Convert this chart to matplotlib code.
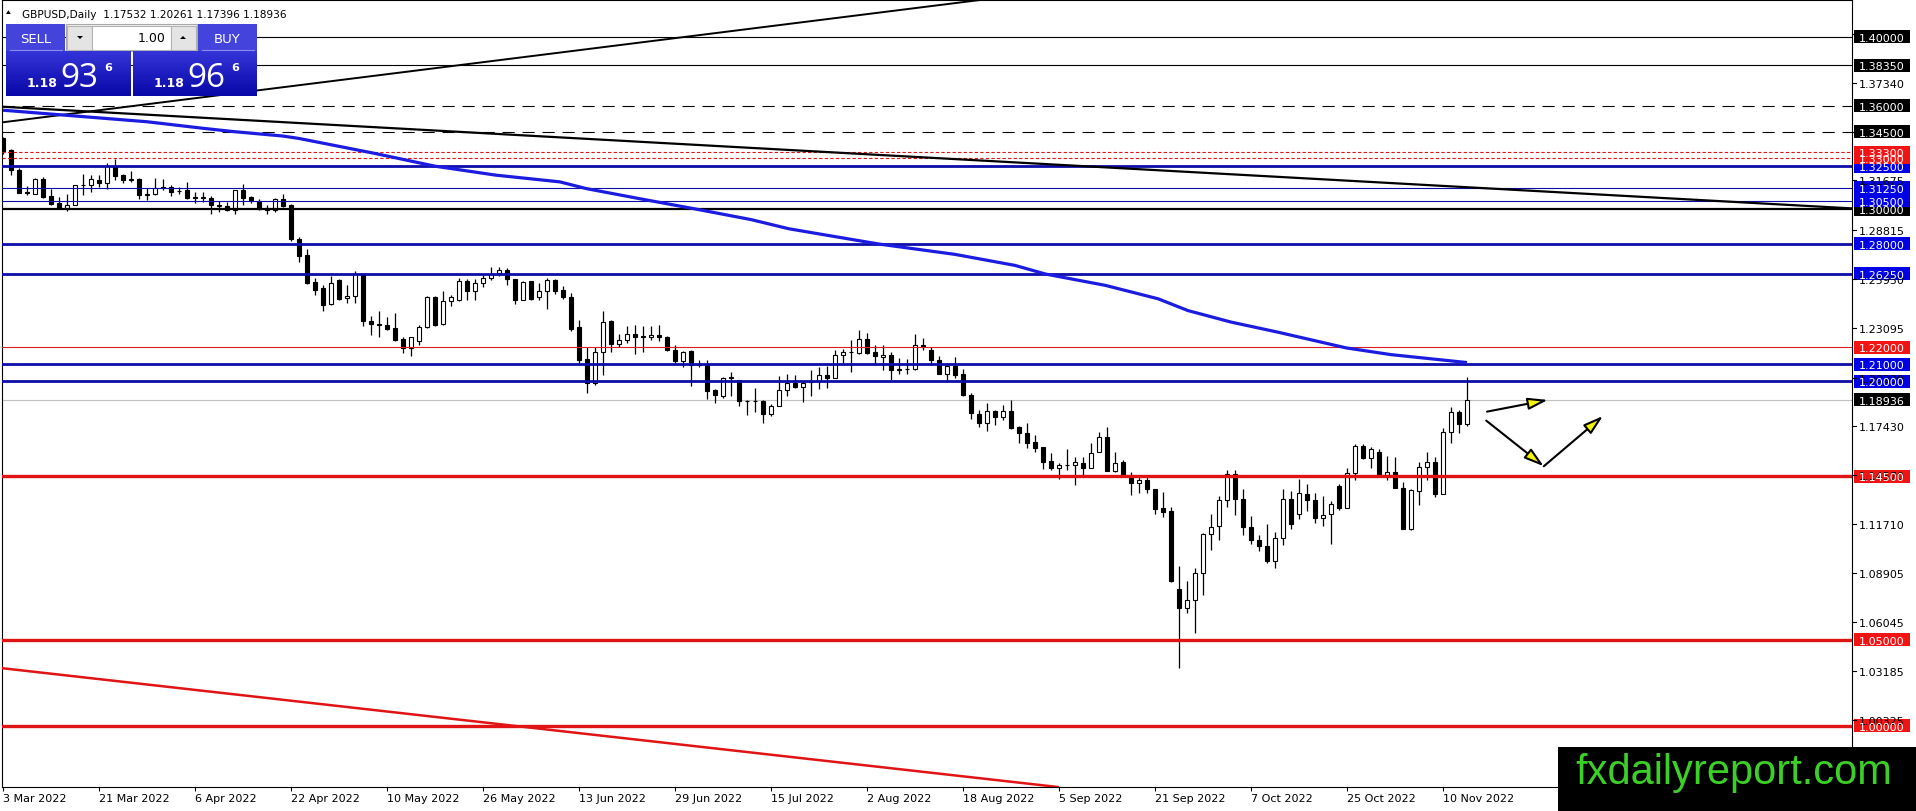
import numpy as np
import pandas as pd
import matplotlib
matplotlib.use("Agg")
import matplotlib.pyplot as plt
from matplotlib.patches import Rectangle, Polygon, FancyArrowPatch
from matplotlib.colors import LinearSegmentedColormap

plt.rcParams['font.family'] = ['DejaVu Sans']

# ---------------- data ----------------
symbol_info = "GBPUSD,Daily  1.17532 1.20261 1.17396 1.18936"
start_date = "2022-03-03"

opens = [1.3411,1.3343,1.3230,1.3101,1.3091,1.3175,1.3076,1.3037,1.3004,1.3027,
         1.3140,1.3138,1.3169,1.3155,1.3250,1.3196,1.3172,1.3176,1.3085,1.3086,
         1.3128,1.3130,1.3105,1.3111,1.3068,1.3066,1.3068,1.3020,1.3020,1.2995,
         1.3111,1.3072,1.3049,1.3008,1.2995,1.3062,1.3022,1.2830,1.2736,1.2576,
         1.2543,1.2450,1.2587,1.2485,1.2494,1.2626,1.2353,1.2333,1.2329,1.2310,
         1.2248,1.2194,1.2233,1.2314,1.2490,1.2333,1.2469,1.2471,1.2585,1.2523,
         1.2572,1.2601,1.2630,1.2649,1.2597,1.2475,1.2581,1.2488,1.2523,1.2591,
         1.2533,1.2490,1.2316,1.2130,1.1990,1.2171,1.2353,1.2217,1.2243,1.2278,
         1.2260,1.2258,1.2272,1.2258,1.2184,1.2117,1.2175,1.2100,1.2097,1.1951,
         1.1913,1.2019,1.2010,1.1886,1.1889,1.1889,1.1812,1.1860,1.1951,1.1994,
         1.1967,1.1998,1.2004,1.2039,1.2019,1.2151,1.2169,1.2165,1.2249,1.2169,
         1.2142,1.2155,1.2068,1.2072,1.2075,1.2210,1.2181,1.2127,1.2046,1.2088,
         1.2042,1.1921,1.1814,1.1757,1.1828,1.1795,1.1828,1.1737,1.1699,1.1650,
         1.1618,1.1538,1.1500,1.1515,1.1515,1.1525,1.1496,1.1588,1.1675,1.1482,
         1.1531,1.1457,1.1409,1.1428,1.1376,1.1264,1.1249,1.0797,1.0685,1.0730,
         1.0888,1.1114,1.1162,1.1314,1.1465,1.1320,1.1155,1.1081,1.1044,1.0960,
         1.1093,1.1320,1.1232,1.1349,1.1314,1.1209,1.1229,1.1392,1.1267,1.1466,
         1.1625,1.1553,1.1588,1.1456,1.1475,1.1384,1.1145,1.1365,1.1504,1.1534,
         1.1349,1.1708,1.1825,1.17532]
highs = [1.3420,1.3350,1.3242,1.3134,1.3184,1.3188,1.3120,1.3072,1.3086,1.3142,
         1.3207,1.3198,1.3198,1.3270,1.3294,1.3202,1.3222,1.3180,1.3126,1.3179,
         1.3175,1.3140,1.3130,1.3159,1.3101,1.3101,1.3076,1.3049,1.3043,1.3113,
         1.3146,1.3076,1.3057,1.3022,1.3068,1.3088,1.3029,1.2839,1.2769,1.2601,
         1.2562,1.2614,1.2597,1.2562,1.2639,1.2630,1.2382,1.2407,1.2374,1.2397,
         1.2256,1.2258,1.2329,1.2494,1.2494,1.2523,1.2504,1.2601,1.2595,1.2595,
         1.2616,1.2665,1.2665,1.2659,1.2597,1.2581,1.2581,1.2572,1.2601,1.2595,
         1.2552,1.2513,1.2358,1.2203,1.2200,1.2407,1.2359,1.2278,1.2320,1.2330,
         1.2320,1.2320,1.2330,1.2262,1.2214,1.2175,1.2181,1.2126,1.2126,1.1957,
         1.2029,1.2058,1.2010,1.1893,1.1965,1.1893,1.1870,1.2033,1.2043,1.2039,
         1.2000,1.2064,1.2087,1.2091,1.2184,1.2188,1.2243,1.2297,1.2282,1.2214,
         1.2214,1.2169,1.2136,1.2130,1.2277,1.2250,1.2200,1.2146,1.2108,1.2143,
         1.2075,1.1934,1.1834,1.1876,1.1834,1.1863,1.1895,1.1741,1.1760,1.1689,
         1.1621,1.1583,1.1525,1.1608,1.1563,1.1560,1.1641,1.1708,1.1733,1.1588,
         1.1544,1.1477,1.1444,1.1444,1.1376,1.1361,1.1274,1.0930,1.0840,1.0917,
         1.1120,1.1232,1.1333,1.1485,1.1489,1.1378,1.1217,1.1106,1.1174,1.1126,
         1.1378,1.1364,1.1436,1.1407,1.1353,1.1333,1.1306,1.1403,1.1495,1.1637,
         1.1637,1.1617,1.1611,1.1567,1.1559,1.1417,1.1378,1.1534,1.1592,1.1563,
         1.1728,1.1854,1.1835,1.20261]
lows = [1.3320,1.3198,1.3095,1.3082,1.3087,1.3068,1.3023,1.3004,1.2991,1.3023,
        1.3082,1.3101,1.3130,1.3115,1.3172,1.3150,1.3157,1.3062,1.3053,1.3082,
        1.3110,1.3076,1.3090,1.3058,1.3037,1.3043,1.2975,1.2985,1.2989,1.2971,
        1.3027,1.3039,1.2998,1.2975,1.2985,1.3014,1.2816,1.2695,1.2567,1.2500,
        1.2407,1.2446,1.2475,1.2455,1.2455,1.2320,1.2271,1.2256,1.2300,1.2236,
        1.2165,1.2149,1.2213,1.2310,1.2325,1.2329,1.2436,1.2469,1.2471,1.2475,
        1.2548,1.2587,1.2614,1.2558,1.2451,1.2471,1.2475,1.2471,1.2422,1.2510,
        1.2481,1.2291,1.2107,1.1932,1.1981,1.2039,1.2169,1.2200,1.2223,1.2159,
        1.2169,1.2239,1.2233,1.2175,1.2107,1.2087,1.1971,1.2087,1.1897,1.1874,
        1.1903,1.1913,1.1858,1.1806,1.1825,1.1757,1.1800,1.1860,1.1916,1.1961,
        1.1883,1.1916,1.1955,1.1961,1.2019,1.2107,1.2058,1.2161,1.2159,1.2097,
        1.2064,1.2006,1.2045,1.2045,1.2065,1.2185,1.2094,1.2042,1.1998,1.2023,
        1.1917,1.1785,1.1737,1.1714,1.1747,1.1776,1.1727,1.1644,1.1616,1.1592,
        1.1492,1.1486,1.1434,1.1486,1.1399,1.1457,1.1496,1.1588,1.1482,1.1477,
        1.1451,1.1342,1.1351,1.1351,1.1231,1.1212,1.0834,1.0338,1.0656,1.0541,
        1.0763,1.1023,1.1081,1.1271,1.1223,1.1106,1.1054,1.1015,1.0945,1.0918,
        1.1048,1.1145,1.1203,1.1248,1.1178,1.1164,1.1058,1.1256,1.1267,1.1427,
        1.1549,1.1500,1.1456,1.1431,1.1384,1.1145,1.1139,1.1281,1.1427,1.1330,
        1.1349,1.1644,1.1703,1.17396]
closes = [1.3337,1.3227,1.3095,1.3095,1.3175,1.3072,1.3029,1.3008,1.3027,1.3140,
          1.3142,1.3175,1.3155,1.3250,1.3194,1.3171,1.3175,1.3083,1.3089,1.3126,
          1.3122,1.3101,1.3108,1.3066,1.3066,1.3070,1.3027,1.3022,1.2995,1.3111,
          1.3068,1.3053,1.3004,1.2998,1.3062,1.3020,1.2830,1.2729,1.2572,1.2533,
          1.2446,1.2572,1.2480,1.2498,1.2626,1.2349,1.2333,1.2328,1.2306,1.2242,
          1.2194,1.2258,1.2316,1.2490,1.2329,1.2469,1.2490,1.2585,1.2523,1.2572,
          1.2601,1.2626,1.2649,1.2597,1.2475,1.2577,1.2479,1.2527,1.2591,1.2527,
          1.2488,1.2306,1.2126,1.1990,1.2171,1.2345,1.2217,1.2239,1.2278,1.2258,
          1.2264,1.2272,1.2258,1.2181,1.2117,1.2171,1.2097,1.2094,1.1947,1.1922,
          1.2019,1.2029,1.1884,1.1888,1.1886,1.1812,1.1860,1.1951,1.1990,1.1967,
          1.1994,1.2000,1.2039,1.2019,1.2155,1.2171,1.2171,1.2249,1.2165,1.2146,
          1.2155,1.2068,1.2070,1.2075,1.2210,1.2200,1.2127,1.2046,1.2088,1.2036,
          1.1921,1.1820,1.1757,1.1828,1.1795,1.1828,1.1731,1.1699,1.1644,1.1616,
          1.1535,1.1500,1.1515,1.1517,1.1531,1.1496,1.1583,1.1675,1.1482,1.1529,
          1.1457,1.1413,1.1428,1.1374,1.1260,1.1245,1.0840,1.0685,1.0734,1.0888,
          1.1114,1.1158,1.1314,1.1465,1.1320,1.1155,1.1081,1.1044,1.0957,1.1093,
          1.1320,1.1174,1.1353,1.1314,1.1209,1.1227,1.1291,1.1265,1.1466,1.1625,
          1.1553,1.1611,1.1456,1.1475,1.1384,1.1145,1.1372,1.1504,1.1534,1.1345,
          1.1708,1.1825,1.1753,1.18936]

# moving average (bar index, price)
ma_index = [0, 18, 25, 29, 35, 37, 46.5, 54, 61.6, 69.6, 72.9, 79.5, 86.5, 93.5,
            98.2, 103, 109.5, 119, 126.5, 130.3, 137.8, 144.4, 148.1, 153.5,
            159.4, 167.9, 173.5, 183]
ma_values = [1.3575, 1.3508, 1.3470, 1.3450, 1.3425, 1.3411, 1.3324, 1.3250,
             1.3198, 1.3159, 1.3120, 1.3062, 1.3002, 1.2940, 1.2887, 1.2849,
             1.2798, 1.2738, 1.2674, 1.2624, 1.2558, 1.2480, 1.2412, 1.2345,
             1.2286, 1.2195, 1.2156, 1.2110]

# trend lines: two anchor points (bar index, price)
trend_down = [(0, 1.3595), (228.75, 1.3011)]
trend_up = [(0, 1.3505), (120.6, 1.4206)]
trend_red = [(-0.375, 1.0337), (131.25, 0.9649)]

levels_black = [1.40000, 1.38350]
levels_dashed = [1.36000, 1.34500]
levels_dotted_red = [1.33300, 1.33000]
levels_blue_thick = [1.32500, 1.28000, 1.26250, 1.21000, 1.20000]
levels_blue_thin = [1.31250, 1.30500]
levels_black_thick = [1.30000]
levels_red_thin = [1.22000]
levels_red_thick = [1.14500, 1.05000, 1.00000]
bid_price = 1.18936

ytick_values = [1.40200, 1.37340, 1.34480, 1.31675, 1.28815, 1.25950, 1.23095,
                1.20230, 1.17430, 1.14570, 1.11710, 1.08905, 1.06045, 1.03185,
                1.00325]

arrow_segments = [((185.5, 1.1825), (193.1, 1.1893)),
                  ((185.4, 1.1773), (192.6, 1.1508)),
                  ((192.6, 1.1508), (200.0, 1.1800))]

sell_quote = ("1.18", "93", "6")
buy_quote = ("1.18", "96", "6")
lot_size = "1.00"
watermark = "fxdailyreport.com"

# ---------------- figure ----------------
W, H = 1916, 812
fig = plt.figure(figsize=(W / 100, H / 100), dpi=100)
fig.patch.set_facecolor('white')

PX_L, PX_R, PX_T, PX_B = 2, 1852, 1, 788
ax = fig.add_axes([PX_L / W, 1 - PX_B / H, (PX_R - PX_L) / W, (PX_B - PX_T) / H])
ax.set_xlim(-0.125, 231.125)
ax.set_ylim(0.964586, 1.421480)
ax.set_facecolor('white')
for s in ax.spines.values():
    s.set_color('black')
    s.set_linewidth(0.8)

n = len(closes)
idx = np.arange(n)
o = np.array(opens); h = np.array(highs); l = np.array(lows); c = np.array(closes)

BLUE_LINE = '#0d0da8'
RED_LINE = '#e01414'

# horizontal levels
for p in levels_black:
    ax.axhline(p, color='black', lw=0.8, zorder=4)
for p in levels_dashed:
    ax.axhline(p, color='black', lw=0.8, ls=(0, (11, 7)), zorder=4)
for p in levels_dotted_red:
    ax.axhline(p, color=RED_LINE, lw=0.8, ls=(0, (3, 2)), zorder=4)
for p in levels_blue_thick:
    ax.axhline(p, color=BLUE_LINE, lw=2.0, zorder=4)
for p in levels_blue_thin:
    ax.axhline(p, color=BLUE_LINE, lw=0.8, zorder=4)
for p in levels_black_thick:
    ax.axhline(p, color='black', lw=1.6, zorder=4)
for p in levels_red_thin:
    ax.axhline(p, color='#d82020', lw=0.8, zorder=4)
for p in levels_red_thick:
    ax.axhline(p, color=RED_LINE, lw=2.4, zorder=4)
ax.axhline(bid_price, color='#c0c0c0', lw=0.8, zorder=1)

# trend lines
ax.axline(trend_down[0], trend_down[1], color='black', lw=1.6, zorder=4)
ax.axline(trend_up[0], trend_up[1], color='black', lw=1.4, zorder=4)
ax.axline(trend_red[0], trend_red[1], color=RED_LINE, lw=1.8, zorder=4)

# candles
ax.vlines(idx, l, h, color='black', lw=0.9, zorder=2)
up = c >= o
bottom = np.minimum(o, c)
height = np.maximum(np.abs(c - o), 0.0003)
ax.bar(idx[up], height[up], bottom=bottom[up], width=0.62, facecolor='white',
       edgecolor='black', linewidth=0.8, zorder=3)
ax.bar(idx[~up], height[~up], bottom=bottom[~up], width=0.62, facecolor='black',
       edgecolor='black', linewidth=0.8, zorder=3)

# moving average
ax.plot(ma_index, ma_values, color='#1c1ce0', lw=2.3, zorder=5,
        solid_capstyle='butt', solid_joinstyle='round')

# arrows
for a, b in arrow_segments:
    ax.add_patch(FancyArrowPatch(a, b, arrowstyle='-|>,head_length=12,head_width=3.6',
                                 mutation_scale=1, lw=1.5, edgecolor='black',
                                 facecolor='#f5f500', shrinkA=0, shrinkB=0, zorder=6))

# x axis dates
dates = pd.bdate_range(start_date, periods=n)
tick_idx = list(range(0, n, 12))
tick_labels = [f"{d.day} {d.strftime('%b %Y')}" for d in dates[tick_idx]]
ax.set_xticks(tick_idx)
ax.set_xticklabels(tick_labels, ha='left', fontsize=8)
ax.tick_params(axis='x', direction='out', length=3, width=0.8, pad=1.5, colors='black')
ax.tick_params(axis='y', left=False, labelleft=False, right=False, labelright=False)

# ---------------- overlay (pixel coordinates) ----------------
ov = fig.add_axes([0, 0, 1, 1], zorder=10)
ov.set_axis_off()


def ypx(p):
    return H - ax.transData.transform((0, p))[1]


# right price scale ticks
for t in ytick_values:
    y = ypx(t)
    ov.plot([PX_R, PX_R + 4], [y, y], color='black', lw=0.8)
    ov.text(1859, y + 4, f"{t:.5f}", ha='left', va='baseline', fontsize=8, color='black')

BOX_BLUE = '#0000e6'
BOX_RED = '#f01414'
boxes = ([(p, 'black') for p in levels_black + levels_dashed + levels_black_thick] +
         [(p, BOX_RED) for p in levels_dotted_red + levels_red_thin + levels_red_thick] +
         [(p, BOX_BLUE) for p in levels_blue_thick + levels_blue_thin] +
         [(bid_price, 'black')])
for p, col in sorted(boxes, key=lambda t: t[0]):
    y = ypx(p)
    ov.add_patch(Rectangle((1854, y - 6.5), 56, 13, facecolor=col, edgecolor='none'))
    ov.text(1859, y + 4, f"{p:.5f}", ha='left', va='baseline', fontsize=8, color='white')

# symbol info
ov.add_patch(Polygon([(6, 15), (10.8, 15), (8.4, 11.2)], closed=True, facecolor='black'))
ov.text(22, 17.5, symbol_info, ha='left', va='baseline', fontsize=7.6, color='black')

# one-click trading panel
HEAD = '#4444dd'
ov.add_patch(Rectangle((6, 25), 59, 27, facecolor=HEAD, edgecolor='none'))
ov.add_patch(Rectangle((198, 25), 59, 27, facecolor=HEAD, edgecolor='none'))
ov.plot([10, 62], [51.3, 51.3], color='#8c8cf0', lw=0.8)
ov.plot([202, 254], [51.3, 51.3], color='#8c8cf0', lw=0.8)
ov.text(35.5, 43, "SELL", ha='center', va='baseline', fontsize=9.5, color='white')
ov.text(227.5, 43, "BUY", ha='center', va='baseline', fontsize=9.5, color='white')

ov.add_patch(Rectangle((66, 25), 131, 27, facecolor='#f0f0f0', edgecolor='#a8a8a8', lw=0.8))
ov.add_patch(Rectangle((67.5, 26.5), 24.5, 24, facecolor='#e4e4e4', edgecolor='#b4b4b4', lw=0.8))
ov.add_patch(Rectangle((92, 26.5), 79, 24, facecolor='white', edgecolor='#b4b4b4', lw=0.8))
ov.add_patch(Rectangle((171, 26.5), 25, 24, facecolor='#e4e4e4', edgecolor='#b4b4b4', lw=0.8))
ov.add_patch(Polygon([(77, 37), (83, 37), (80, 40)], closed=True, facecolor='black'))
ov.add_patch(Polygon([(180, 40), (186, 40), (183, 37)], closed=True, facecolor='black'))
ov.text(166, 42.5, lot_size, ha='right', va='baseline', fontsize=9, color='black')

grad = LinearSegmentedColormap.from_list('g', ['#3434d8', '#0808a8'])
gimg = np.linspace(0, 1, 64).reshape(-1, 1)
ov.imshow(gimg, cmap=grad, extent=(6, 131, 97, 52), aspect='auto', origin='upper', zorder=1)
ov.imshow(gimg, cmap=grad, extent=(133, 257, 97, 52), aspect='auto', origin='upper', zorder=1)

for x0, q in ((6, sell_quote), (133, buy_quote)):
    ov.text(x0 + 21, 87, q[0], ha='left', va='baseline', fontsize=9, fontweight='bold',
            color='white', zorder=2)
    ov.text(x0 + 54, 87, q[1], ha='left', va='baseline', fontsize=24,
            family=['Open Sans', 'DejaVu Sans'], color='white', zorder=2)
    ov.text(x0 + 98, 71, q[2], ha='left', va='baseline', fontsize=8, fontweight='bold',
            color='white', zorder=2)

# watermark box
ov.add_patch(Rectangle((1558, 748), W - 1558, H - 748, facecolor='black', edgecolor='none', zorder=3))
ov.text(1575, 784, watermark, ha='left', va='baseline', fontsize=30,
        family=['Liberation Sans', 'DejaVu Sans'], color='#3ccf28', zorder=4)

ov.set_xlim(0, W)
ov.set_ylim(H, 0)

fig.savefig('out.png', dpi=100, facecolor='white')
